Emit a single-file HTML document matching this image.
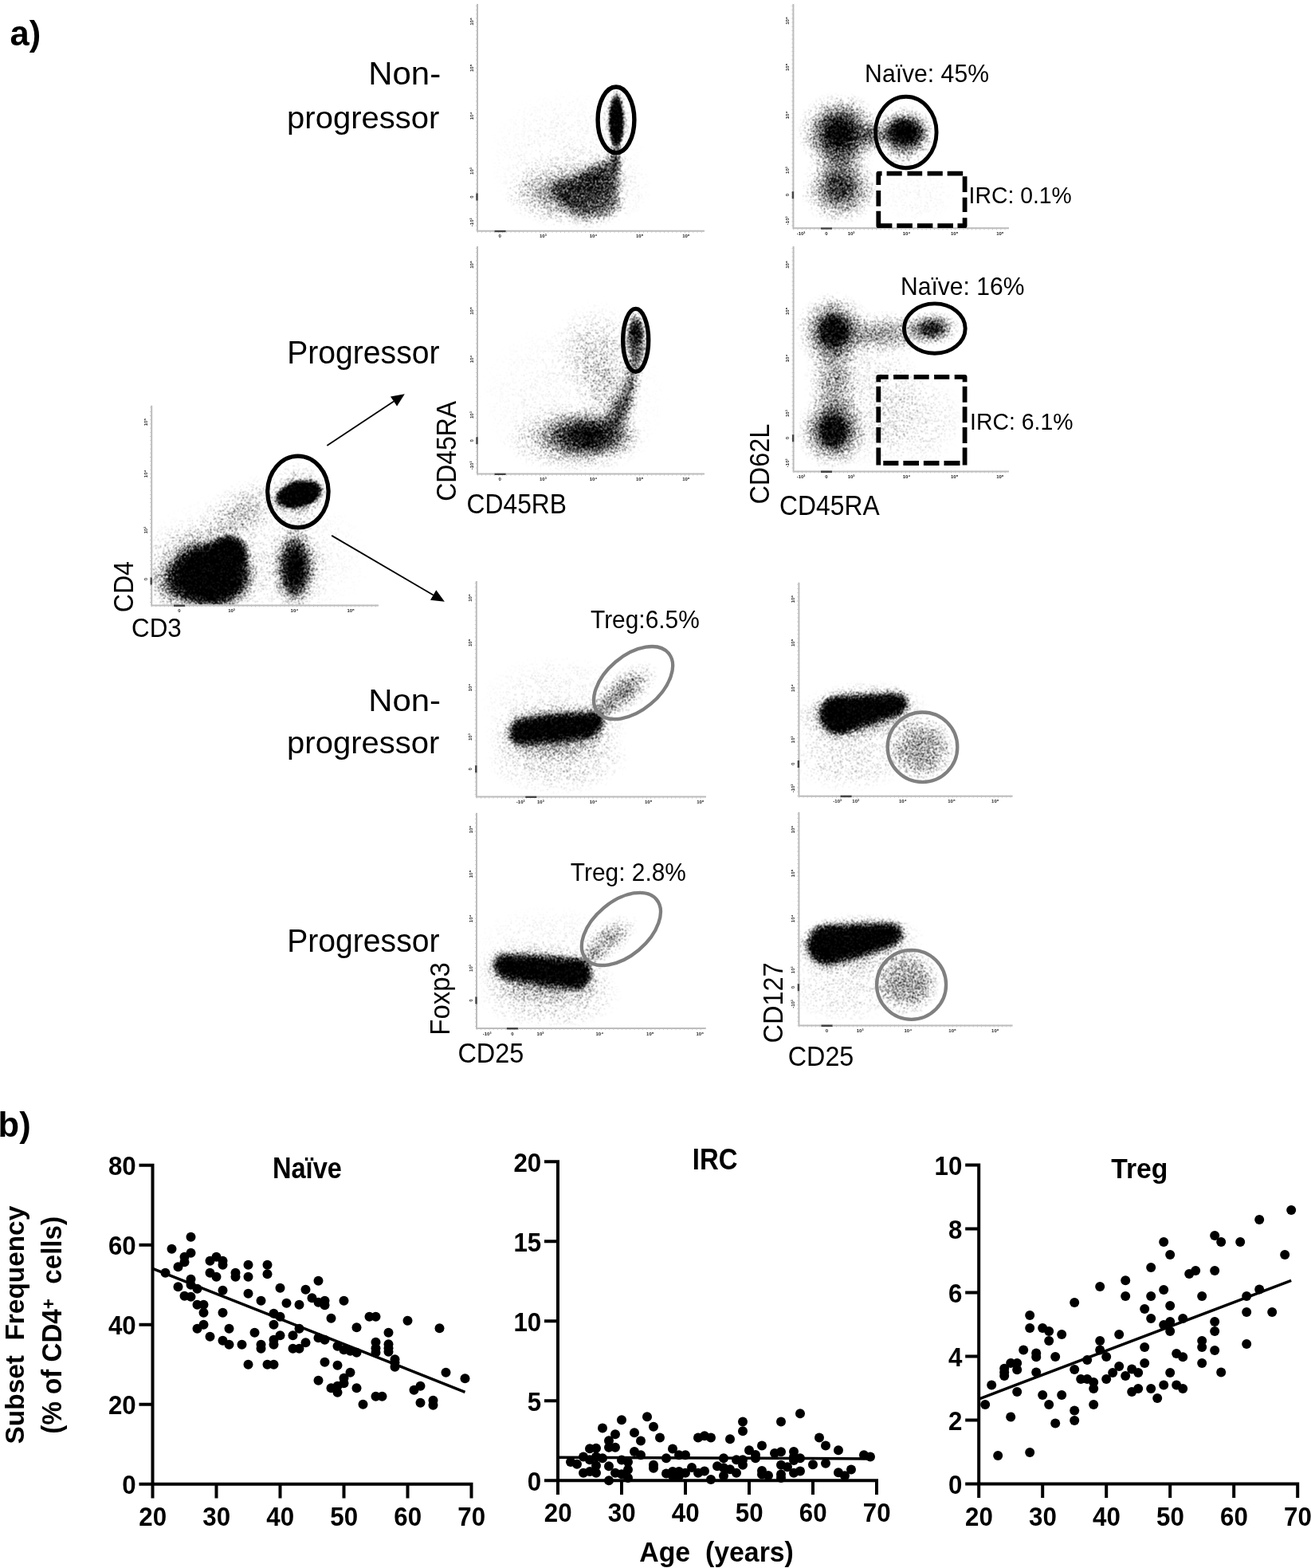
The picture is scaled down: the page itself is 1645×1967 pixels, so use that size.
<!DOCTYPE html>
<html lang="en">
<head>
<meta charset="utf-8">
<title>Figure</title>
<style>
html,body{margin:0;padding:0;background:#fff;width:1645px;height:1967px;overflow:hidden}
svg{display:block}
text{font-family:"Liberation Sans",sans-serif;fill:#000;white-space:pre}
.b{font-weight:bold}
.tk{font-size:6px;font-weight:bold;fill:#222}
</style>
</head>
<body>
<svg width="1645" height="1967" viewBox="0 0 1645 1967">
<defs>
<radialGradient id="g"><stop offset="0" stop-opacity="1"/><stop offset="0.15" stop-opacity="0.95"/><stop offset="0.3" stop-opacity="0.82"/><stop offset="0.45" stop-opacity="0.62"/><stop offset="0.6" stop-opacity="0.4"/><stop offset="0.75" stop-opacity="0.2"/><stop offset="0.9" stop-opacity="0.06"/><stop offset="1" stop-opacity="0"/></radialGradient>
<radialGradient id="c"><stop offset="0" stop-opacity="1"/><stop offset="0.58" stop-opacity="1"/><stop offset="0.7" stop-opacity="0.8"/><stop offset="0.8" stop-opacity="0.5"/><stop offset="0.9" stop-opacity="0.2"/><stop offset="1" stop-opacity="0"/></radialGradient>
<radialGradient id="k"><stop offset="0" stop-opacity="1"/><stop offset="0.72" stop-opacity="1"/><stop offset="0.82" stop-opacity="0.7"/><stop offset="0.92" stop-opacity="0.25"/><stop offset="1" stop-opacity="0"/></radialGradient>
<radialGradient id="f"><stop offset="0" stop-opacity="1"/><stop offset="0.5" stop-opacity="0.85"/><stop offset="0.8" stop-opacity="0.4"/><stop offset="1" stop-opacity="0"/></radialGradient>
<filter id="b3" x="-30%" y="-40%" width="160%" height="180%"><feGaussianBlur stdDeviation="3"/></filter>
<filter id="b4" x="-30%" y="-40%" width="160%" height="180%"><feGaussianBlur stdDeviation="4"/></filter>
<filter id="b5" x="-30%" y="-40%" width="160%" height="180%"><feGaussianBlur stdDeviation="5"/></filter>
<filter id="b6" x="-30%" y="-40%" width="160%" height="180%"><feGaussianBlur stdDeviation="6"/></filter>
<filter id="b8" x="-30%" y="-40%" width="160%" height="180%"><feGaussianBlur stdDeviation="8"/></filter>
<filter id="st" x="130" y="0" width="1200" height="1310" filterUnits="userSpaceOnUse" color-interpolation-filters="sRGB"><feTurbulence type="fractalNoise" baseFrequency="0.7" numOctaves="2" seed="11" result="n"/><feColorMatrix in="n" type="matrix" values="0 0 0 0 0  0 0 0 0 0  0 0 0 0 0  0 0 0 2.6 -0.8" result="na"/><feComposite in="SourceGraphic" in2="na" operator="arithmetic" k1="0" k2="1" k3="-0.8" k4="0" result="d"/><feComponentTransfer in="d" result="t"><feFuncA type="linear" slope="4" intercept="0"/></feComponentTransfer><feConvolveMatrix in="t" order="3" kernelMatrix="1 2 1 2 4 2 1 2 1" divisor="16" edgeMode="none" preserveAlpha="false"/></filter>
<clipPath id="cp1"><rect x="191.2" y="508.7" width="304.8" height="249.7"/></clipPath>
<clipPath id="cp2"><rect x="600" y="5" width="305" height="283.8"/></clipPath>
<clipPath id="cp3"><rect x="600" y="309" width="305" height="284.6"/></clipPath>
<clipPath id="cp4"><rect x="996.4" y="5" width="290.6" height="280.3"/></clipPath>
<clipPath id="cp5"><rect x="996.6" y="309" width="290.4" height="281.4"/></clipPath>
<clipPath id="cp6"><rect x="598.8" y="729" width="308.2" height="269.6"/></clipPath>
<clipPath id="cp7"><rect x="599" y="1019.8" width="307.8" height="269.2"/></clipPath>
<clipPath id="cp8"><rect x="1003.4" y="730.8" width="288.2" height="266.9"/></clipPath>
<clipPath id="cp9"><rect x="1003.4" y="1018.8" width="288.2" height="266.7"/></clipPath>
</defs>
<rect width="1645" height="1967" fill="#fff"/>
<g filter="url(#st)">
<g clip-path="url(#cp1)"><ellipse cx="264" cy="721" rx="59" ry="47" fill="url(#c)" opacity="1"/><ellipse cx="286" cy="696" rx="30" ry="28" fill="url(#c)" opacity="1" transform="rotate(-20 286 696)"/><ellipse cx="224" cy="732" rx="40" ry="34" fill="url(#g)" opacity="0.6"/><ellipse cx="256" cy="716" rx="90" ry="70" fill="url(#g)" opacity="0.5"/><ellipse cx="370" cy="713" rx="30" ry="56" fill="url(#g)" opacity="1"/><ellipse cx="370" cy="712" rx="18" ry="40" fill="url(#g)" opacity="0.9"/><ellipse cx="371" cy="708" rx="44" ry="64" fill="url(#g)" opacity="0.3"/><ellipse cx="375" cy="620" rx="33" ry="18" fill="url(#k)" opacity="1" transform="rotate(-14 375 620)"/><ellipse cx="375" cy="620" rx="41" ry="25" fill="url(#g)" opacity="0.6" transform="rotate(-14 375 620)"/><ellipse cx="374" cy="622" rx="42" ry="46" fill="url(#g)" opacity="0.35"/><ellipse cx="302" cy="643" rx="66" ry="38" fill="url(#g)" opacity="0.28" transform="rotate(-35 302 643)"/><ellipse cx="320" cy="700" rx="150" ry="90" fill="url(#f)" opacity="0.07"/></g>
<g clip-path="url(#cp2)"><ellipse cx="773.5" cy="152" rx="11" ry="40" fill="url(#c)" opacity="1"/><ellipse cx="773.5" cy="152" rx="20" ry="45" fill="url(#g)" opacity="0.45"/><path d="M688 236L771 194Q777 192 777 200L777 258Q777 266 770 268L745 276Q732 278 722 272Z" filter="url(#b6)" opacity="0.55"/><ellipse cx="750" cy="230" rx="36" ry="30" fill="url(#g)" opacity="0.4" transform="rotate(-15 750 230)"/><ellipse cx="705" cy="243" rx="76" ry="40" fill="url(#g)" opacity="0.42"/><ellipse cx="772" cy="200" rx="11" ry="28" fill="url(#g)" opacity="0.5"/><ellipse cx="725" cy="235" rx="95" ry="55" fill="url(#f)" opacity="0.1"/><ellipse cx="710" cy="200" rx="100" ry="90" fill="url(#f)" opacity="0.05"/></g>
<g clip-path="url(#cp3)"><ellipse cx="798" cy="415" rx="12" ry="22" fill="url(#g)" opacity="0.8"/><ellipse cx="798" cy="428" rx="15" ry="40" fill="url(#f)" opacity="0.7"/><ellipse cx="739" cy="546" rx="68" ry="34" fill="url(#g)" opacity="0.9"/><ellipse cx="722" cy="550" rx="95" ry="46" fill="url(#g)" opacity="0.45"/><ellipse cx="778" cy="515" rx="22" ry="46" fill="url(#g)" opacity="0.65" transform="rotate(25 778 515)"/><ellipse cx="792" cy="478" rx="15" ry="38" fill="url(#g)" opacity="0.5" transform="rotate(12 792 478)"/><ellipse cx="748" cy="440" rx="60" ry="65" fill="url(#g)" opacity="0.22"/><ellipse cx="760" cy="490" rx="40" ry="50" fill="url(#g)" opacity="0.2"/><ellipse cx="720" cy="500" rx="120" ry="100" fill="url(#f)" opacity="0.05"/></g>
<g clip-path="url(#cp4)"><ellipse cx="1054" cy="166" rx="56" ry="52" fill="url(#g)" opacity="0.95"/><ellipse cx="1054" cy="166" rx="26" ry="24" fill="url(#g)" opacity="0.4"/><ellipse cx="1054" cy="238" rx="52" ry="46" fill="url(#g)" opacity="0.72"/><ellipse cx="1054" cy="202" rx="42" ry="52" fill="url(#g)" opacity="0.35"/><ellipse cx="1135" cy="166" rx="40" ry="32" fill="url(#g)" opacity="1"/><ellipse cx="1135" cy="166" rx="27" ry="20" fill="url(#g)" opacity="1"/><ellipse cx="1136" cy="174" rx="40" ry="46" fill="url(#g)" opacity="0.4"/><ellipse cx="1095" cy="170" rx="26" ry="22" fill="url(#g)" opacity="0.45"/><ellipse cx="1150" cy="245" rx="50" ry="35" fill="url(#f)" opacity="0.04"/></g>
<g clip-path="url(#cp5)"><ellipse cx="1046" cy="415" rx="50" ry="50" fill="url(#g)" opacity="0.85"/><ellipse cx="1046" cy="415" rx="21" ry="23" fill="url(#c)" opacity="0.6"/><ellipse cx="1045" cy="541" rx="48" ry="50" fill="url(#g)" opacity="0.85"/><ellipse cx="1045" cy="541" rx="21" ry="24" fill="url(#c)" opacity="0.6"/><ellipse cx="1046" cy="478" rx="38" ry="75" fill="url(#g)" opacity="0.4"/><ellipse cx="1110" cy="418" rx="70" ry="30" fill="url(#g)" opacity="0.45"/><ellipse cx="1170" cy="412" rx="36" ry="24" fill="url(#g)" opacity="0.85"/><ellipse cx="1150" cy="527" rx="60" ry="60" fill="url(#f)" opacity="0.11"/><ellipse cx="1090" cy="500" rx="70" ry="90" fill="url(#f)" opacity="0.12"/></g>
<g clip-path="url(#cp6)"><path d="M639.5 917.9C639.5 907.6 647.3 902.0 659.0 901.1L740.9 892.8C751.6 891.8 757.5 898.3 756.5 906.7C755.5 916.9 747.7 923.4 737.0 925.3L657.0 933.7C646.3 934.6 639.5 928.1 639.5 917.9Z" filter="url(#b4)" opacity="1"/><ellipse cx="698" cy="918" rx="92" ry="44" fill="url(#g)" opacity="0.52" transform="rotate(-3 698 918)"/><ellipse cx="700" cy="952" rx="92" ry="46" fill="url(#f)" opacity="0.17"/><ellipse cx="784" cy="866" rx="52" ry="27" fill="url(#g)" opacity="0.5" transform="rotate(-38 784 866)"/><ellipse cx="760" cy="887" rx="22" ry="18" fill="url(#g)" opacity="0.3"/><ellipse cx="700" cy="880" rx="100" ry="60" fill="url(#f)" opacity="0.07"/></g>
<g clip-path="url(#cp7)"><path d="M619.5 1211.6C619.5 1202.3 625.4 1197.6 635.1 1197.6L728.8 1203.2C738.5 1204.1 742.4 1212.5 741.4 1221.8C740.5 1233.9 732.6 1240.4 721.0 1240.4L637.1 1227.4C626.4 1225.5 619.5 1219.9 619.5 1211.6Z" filter="url(#b4)" opacity="1"/><ellipse cx="680" cy="1222" rx="94" ry="42" fill="url(#g)" opacity="0.52" transform="rotate(5 680 1222)"/><ellipse cx="690" cy="1250" rx="92" ry="42" fill="url(#f)" opacity="0.17"/><ellipse cx="764" cy="1178" rx="46" ry="23" fill="url(#g)" opacity="0.4" transform="rotate(-38 764 1178)"/><ellipse cx="745" cy="1197" rx="20" ry="16" fill="url(#g)" opacity="0.28"/><ellipse cx="690" cy="1185" rx="95" ry="50" fill="url(#f)" opacity="0.06"/></g>
<g clip-path="url(#cp8)"><path d="M1028.3 897.6C1028.3 882.8 1036.1 874.4 1050.8 873.5L1123.9 869.8C1134.6 869.8 1139.5 876.3 1138.5 883.7C1137.5 891.1 1131.7 895.8 1122.9 898.6L1058.5 920.0C1043.9 923.7 1028.3 912.5 1028.3 897.6Z" filter="url(#b4)" opacity="1"/><ellipse cx="1078" cy="895" rx="90" ry="42" fill="url(#g)" opacity="0.5" transform="rotate(-6 1078 895)"/><ellipse cx="1065" cy="950" rx="78" ry="45" fill="url(#f)" opacity="0.14"/><ellipse cx="1156" cy="939" rx="43" ry="43" fill="url(#f)" opacity="0.45"/></g>
<g clip-path="url(#cp9)"><path d="M1013.5 1187.7C1013.5 1172.8 1021.2 1161.6 1034.9 1160.7L1116.8 1157.9C1127.5 1157.9 1133.4 1164.4 1132.4 1171.8C1131.4 1180.2 1125.6 1184.9 1115.8 1187.7L1045.6 1209.0C1031.0 1212.8 1013.5 1202.5 1013.5 1187.7Z" filter="url(#b4)" opacity="1"/><ellipse cx="1070" cy="1185" rx="92" ry="42" fill="url(#g)" opacity="0.5" transform="rotate(-6 1070 1185)"/><ellipse cx="1060" cy="1240" rx="72" ry="45" fill="url(#f)" opacity="0.12"/><ellipse cx="1138" cy="1232" rx="43" ry="43" fill="url(#f)" opacity="0.45"/></g>
</g>
<g><path d="M190.2 508.7V759.4H475" fill="none" stroke="#bcbcbc" stroke-width="2"/><path d="M189.6 510.7V759.4" fill="none" stroke="#c0c0c0" stroke-width="3" stroke-dasharray="0.8 4.4"/><path d="M190.2 760H473" fill="none" stroke="#c0c0c0" stroke-width="3" stroke-dasharray="0.8 4.4"/><path d="M218 759.7h14M189.7 724.5v9" fill="none" stroke="#444" stroke-width="2.4"/><text class="tk" text-anchor="middle" transform="translate(184.8 726.7) rotate(-90)">0</text><text class="tk" text-anchor="middle" transform="translate(184.8 665.2) rotate(-90)">10³</text><text class="tk" text-anchor="middle" transform="translate(184.8 594.3) rotate(-90)">10⁴</text><text class="tk" text-anchor="middle" transform="translate(184.8 529.6) rotate(-90)">10⁵</text><text class="tk" text-anchor="middle" x="225" y="768">0</text><text class="tk" text-anchor="middle" x="290.5" y="768">10³</text><text class="tk" text-anchor="middle" x="369.4" y="768">10⁴</text><text class="tk" text-anchor="middle" x="440.2" y="768">10⁵</text></g>
<g><path d="M599 5V289.8H884" fill="none" stroke="#bcbcbc" stroke-width="2"/><path d="M598.4 7V289.8" fill="none" stroke="#c0c0c0" stroke-width="3" stroke-dasharray="0.8 4.4"/><path d="M599 290.4H882" fill="none" stroke="#c0c0c0" stroke-width="3" stroke-dasharray="0.8 4.4"/><path d="M620.6 290.1h14M598.5 242.5v9" fill="none" stroke="#444" stroke-width="2.4"/><text class="tk" text-anchor="middle" transform="translate(593.6 278.8) rotate(-90)">-10³</text><text class="tk" text-anchor="middle" transform="translate(593.6 247) rotate(-90)">0</text><text class="tk" text-anchor="middle" transform="translate(593.6 214.6) rotate(-90)">10³</text><text class="tk" text-anchor="middle" transform="translate(593.6 145.4) rotate(-90)">10⁴</text><text class="tk" text-anchor="middle" transform="translate(593.6 85.3) rotate(-90)">10⁵</text><text class="tk" text-anchor="middle" transform="translate(593.6 27) rotate(-90)">10⁶</text><text class="tk" text-anchor="middle" x="627.2" y="298.4">0</text><text class="tk" text-anchor="middle" x="681.3" y="298.4">10³</text><text class="tk" text-anchor="middle" x="744.5" y="298.4">10⁴</text><text class="tk" text-anchor="middle" x="802.7" y="298.4">10⁵</text><text class="tk" text-anchor="middle" x="860.9" y="298.4">10⁶</text></g>
<g><path d="M599 309V594.6H884" fill="none" stroke="#bcbcbc" stroke-width="2"/><path d="M598.4 311V594.6" fill="none" stroke="#c0c0c0" stroke-width="3" stroke-dasharray="0.8 4.4"/><path d="M599 595.2H882" fill="none" stroke="#c0c0c0" stroke-width="3" stroke-dasharray="0.8 4.4"/><path d="M620.6 594.9h14M598.5 548.3v9" fill="none" stroke="#444" stroke-width="2.4"/><text class="tk" text-anchor="middle" transform="translate(593.6 583.9) rotate(-90)">-10³</text><text class="tk" text-anchor="middle" transform="translate(593.6 552.8) rotate(-90)">0</text><text class="tk" text-anchor="middle" transform="translate(593.6 520.7) rotate(-90)">10³</text><text class="tk" text-anchor="middle" transform="translate(593.6 450.5) rotate(-90)">10⁴</text><text class="tk" text-anchor="middle" transform="translate(593.6 390) rotate(-90)">10⁵</text><text class="tk" text-anchor="middle" transform="translate(593.6 332) rotate(-90)">10⁶</text><text class="tk" text-anchor="middle" x="627.2" y="603.2">0</text><text class="tk" text-anchor="middle" x="681.3" y="603.2">10³</text><text class="tk" text-anchor="middle" x="744.5" y="603.2">10⁴</text><text class="tk" text-anchor="middle" x="802.7" y="603.2">10⁵</text><text class="tk" text-anchor="middle" x="860.9" y="603.2">10⁶</text></g>
<g><path d="M995.4 5V286.3H1266" fill="none" stroke="#bcbcbc" stroke-width="2"/><path d="M994.8 7V286.3" fill="none" stroke="#c0c0c0" stroke-width="3" stroke-dasharray="0.8 4.4"/><path d="M995.4 286.9H1264" fill="none" stroke="#c0c0c0" stroke-width="3" stroke-dasharray="0.8 4.4"/><path d="M1030 286.6h14M994.9 240.2v9" fill="none" stroke="#444" stroke-width="2.4"/><text class="tk" text-anchor="middle" transform="translate(990 276.8) rotate(-90)">-10³</text><text class="tk" text-anchor="middle" transform="translate(990 244.7) rotate(-90)">0</text><text class="tk" text-anchor="middle" transform="translate(990 213.6) rotate(-90)">10³</text><text class="tk" text-anchor="middle" transform="translate(990 144.4) rotate(-90)">10⁴</text><text class="tk" text-anchor="middle" transform="translate(990 84.3) rotate(-90)">10⁵</text><text class="tk" text-anchor="middle" transform="translate(990 26) rotate(-90)">10⁶</text><text class="tk" text-anchor="middle" x="1005" y="294.9">-10³</text><text class="tk" text-anchor="middle" x="1037" y="294.9">0</text><text class="tk" text-anchor="middle" x="1068" y="294.9">10³</text><text class="tk" text-anchor="middle" x="1137.5" y="294.9">10⁴</text><text class="tk" text-anchor="middle" x="1197.7" y="294.9">10⁵</text><text class="tk" text-anchor="middle" x="1254.9" y="294.9">10⁶</text></g>
<g><path d="M995.6 309V591.4H1266" fill="none" stroke="#bcbcbc" stroke-width="2"/><path d="M995 311V591.4" fill="none" stroke="#c0c0c0" stroke-width="3" stroke-dasharray="0.8 4.4"/><path d="M995.6 592H1264" fill="none" stroke="#c0c0c0" stroke-width="3" stroke-dasharray="0.8 4.4"/><path d="M1030 591.7h14M995.1 545.2v9" fill="none" stroke="#444" stroke-width="2.4"/><text class="tk" text-anchor="middle" transform="translate(990.2 580.8) rotate(-90)">-10³</text><text class="tk" text-anchor="middle" transform="translate(990.2 549.7) rotate(-90)">0</text><text class="tk" text-anchor="middle" transform="translate(990.2 518.7) rotate(-90)">10³</text><text class="tk" text-anchor="middle" transform="translate(990.2 449.4) rotate(-90)">10⁴</text><text class="tk" text-anchor="middle" transform="translate(990.2 390.3) rotate(-90)">10⁵</text><text class="tk" text-anchor="middle" transform="translate(990.2 332) rotate(-90)">10⁶</text><text class="tk" text-anchor="middle" x="1005" y="600">-10³</text><text class="tk" text-anchor="middle" x="1037" y="600">0</text><text class="tk" text-anchor="middle" x="1068" y="600">10³</text><text class="tk" text-anchor="middle" x="1137.5" y="600">10⁴</text><text class="tk" text-anchor="middle" x="1197.7" y="600">10⁵</text><text class="tk" text-anchor="middle" x="1254.9" y="600">10⁶</text></g>
<g><path d="M597.8 729V999.6H886" fill="none" stroke="#bcbcbc" stroke-width="2"/><path d="M597.2 731V999.6" fill="none" stroke="#c0c0c0" stroke-width="3" stroke-dasharray="0.8 4.4"/><path d="M597.8 1000.2H884" fill="none" stroke="#c0c0c0" stroke-width="3" stroke-dasharray="0.8 4.4"/><path d="M659.3 999.9h14M597.3 960.3v9" fill="none" stroke="#444" stroke-width="2.4"/><text class="tk" text-anchor="middle" transform="translate(592.4 964.8) rotate(-90)">0</text><text class="tk" text-anchor="middle" transform="translate(592.4 924.7) rotate(-90)">10³</text><text class="tk" text-anchor="middle" transform="translate(592.4 862.5) rotate(-90)">10⁴</text><text class="tk" text-anchor="middle" transform="translate(592.4 806.3) rotate(-90)">10⁵</text><text class="tk" text-anchor="middle" transform="translate(592.4 750) rotate(-90)">10⁶</text><text class="tk" text-anchor="middle" x="653.2" y="1008.2">-10³</text><text class="tk" text-anchor="middle" x="678.3" y="1008.2">10³</text><text class="tk" text-anchor="middle" x="744.5" y="1008.2">10⁴</text><text class="tk" text-anchor="middle" x="813.7" y="1008.2">10⁵</text><text class="tk" text-anchor="middle" x="878.9" y="1008.2">10⁶</text></g>
<g><path d="M598 1019.8V1290H885.8" fill="none" stroke="#bcbcbc" stroke-width="2"/><path d="M597.4 1021.8V1290" fill="none" stroke="#c0c0c0" stroke-width="3" stroke-dasharray="0.8 4.4"/><path d="M598 1290.6H883.8" fill="none" stroke="#c0c0c0" stroke-width="3" stroke-dasharray="0.8 4.4"/><path d="M635.9 1290.3h14M597.5 1250.5v9" fill="none" stroke="#444" stroke-width="2.4"/><text class="tk" text-anchor="middle" transform="translate(592.6 1255) rotate(-90)">0</text><text class="tk" text-anchor="middle" transform="translate(592.6 1214.6) rotate(-90)">10³</text><text class="tk" text-anchor="middle" transform="translate(592.6 1152.3) rotate(-90)">10⁴</text><text class="tk" text-anchor="middle" transform="translate(592.6 1096.5) rotate(-90)">10⁵</text><text class="tk" text-anchor="middle" transform="translate(592.6 1040.6) rotate(-90)">10⁶</text><text class="tk" text-anchor="middle" x="611.1" y="1298.6">-10³</text><text class="tk" text-anchor="middle" x="642.9" y="1298.6">0</text><text class="tk" text-anchor="middle" x="677.9" y="1298.6">10³</text><text class="tk" text-anchor="middle" x="752.3" y="1298.6">10⁴</text><text class="tk" text-anchor="middle" x="815.8" y="1298.6">10⁵</text><text class="tk" text-anchor="middle" x="878.2" y="1298.6">10⁶</text></g>
<g><path d="M1002.4 730.8V998.7H1270.6" fill="none" stroke="#bcbcbc" stroke-width="2"/><path d="M1001.8 732.8V998.7" fill="none" stroke="#c0c0c0" stroke-width="3" stroke-dasharray="0.8 4.4"/><path d="M1002.4 999.3H1268.6" fill="none" stroke="#c0c0c0" stroke-width="3" stroke-dasharray="0.8 4.4"/><path d="M1054.6 999h14M1001.9 953.9v9" fill="none" stroke="#444" stroke-width="2.4"/><text class="tk" text-anchor="middle" transform="translate(997 989) rotate(-90)">-10³</text><text class="tk" text-anchor="middle" transform="translate(997 958.4) rotate(-90)">0</text><text class="tk" text-anchor="middle" transform="translate(997 927.8) rotate(-90)">10³</text><text class="tk" text-anchor="middle" transform="translate(997 863.2) rotate(-90)">10⁴</text><text class="tk" text-anchor="middle" transform="translate(997 806.3) rotate(-90)">10⁵</text><text class="tk" text-anchor="middle" transform="translate(997 751.6) rotate(-90)">10⁶</text><text class="tk" text-anchor="middle" x="1050.7" y="1007.3">-10³</text><text class="tk" text-anchor="middle" x="1073.7" y="1007.3">10³</text><text class="tk" text-anchor="middle" x="1132.8" y="1007.3">10⁴</text><text class="tk" text-anchor="middle" x="1194" y="1007.3">10⁵</text><text class="tk" text-anchor="middle" x="1248.8" y="1007.3">10⁶</text></g>
<g><path d="M1002.4 1018.8V1286.5H1270.6" fill="none" stroke="#bcbcbc" stroke-width="2"/><path d="M1001.8 1020.8V1286.5" fill="none" stroke="#c0c0c0" stroke-width="3" stroke-dasharray="0.8 4.4"/><path d="M1002.4 1287.1H1268.6" fill="none" stroke="#c0c0c0" stroke-width="3" stroke-dasharray="0.8 4.4"/><path d="M1030.5 1286.8h14M1001.9 1234.2v9" fill="none" stroke="#444" stroke-width="2.4"/><text class="tk" text-anchor="middle" transform="translate(997 1259.5) rotate(-90)">-10³</text><text class="tk" text-anchor="middle" transform="translate(997 1238.7) rotate(-90)">0</text><text class="tk" text-anchor="middle" transform="translate(997 1216.8) rotate(-90)">10³</text><text class="tk" text-anchor="middle" transform="translate(997 1152.3) rotate(-90)">10⁴</text><text class="tk" text-anchor="middle" transform="translate(997 1095.4) rotate(-90)">10⁵</text><text class="tk" text-anchor="middle" transform="translate(997 1040.6) rotate(-90)">10⁶</text><text class="tk" text-anchor="middle" x="1037.5" y="1295.1">0</text><text class="tk" text-anchor="middle" x="1079.1" y="1295.1">10³</text><text class="tk" text-anchor="middle" x="1139.3" y="1295.1">10⁴</text><text class="tk" text-anchor="middle" x="1195.1" y="1295.1">10⁵</text><text class="tk" text-anchor="middle" x="1248.8" y="1295.1">10⁶</text></g>
<ellipse cx="373.9" cy="617" rx="38.2" ry="44.9" fill="none" stroke="#000" stroke-width="5.2"/>
<ellipse cx="773" cy="150.4" rx="22.9" ry="41.4" fill="none" stroke="#000" stroke-width="5.4"/>
<ellipse cx="797.7" cy="426.8" rx="16" ry="39.4" fill="none" stroke="#000" stroke-width="5.4"/>
<ellipse cx="1136.8" cy="166" rx="38.3" ry="44.8" fill="none" stroke="#000" stroke-width="4.9"/>
<ellipse cx="1172.8" cy="412.1" rx="38.4" ry="31.2" fill="none" stroke="#000" stroke-width="4.9"/>
<path d="M1102.3 231.9V217.7H1106.6M1112.6 217.7H1131.7M1138.5 217.7H1157.2M1163.6 217.7H1182.8M1188.7 217.7H1208.2M1210.6 221.3V240.9M1210.6 247.7V266M1210.6 273.2V283.2H1201.5M1196 283.2H1176.4M1170.4 283.2H1150.9M1144.9 283.2H1125.3M1119.4 283.2H1102.3V264.7M1102.3 258.7V239.1" fill="none" stroke="#000" stroke-width="5.8" stroke-linejoin="round"/>
<path d="M1102.3 479.3V472.9H1114.7M1121.1 472.9H1140.2M1146.6 472.9H1165.7M1172.1 472.9H1191.3M1197.7 472.9H1210.6V479.3M1210.6 484.8V504.8M1210.6 510.3V530.3M1210.6 535.9V555.9M1210.6 561.4V583.5M1204.5 581H1184.5M1178.5 581H1158.9M1153 581H1133.4M1127.4 581H1108.3M1102.3 583.5V561.4M1102.3 555.4V535.9M1102.3 529.9V510.3M1102.3 504.4V484.8" fill="none" stroke="#000" stroke-width="5.8" stroke-linejoin="round"/>
<ellipse cx="794.6" cy="856.6" rx="57.8" ry="34.4" fill="none" stroke="#7f7f7f" stroke-width="4.3" transform="rotate(-40 794.6 856.6)"/>
<ellipse cx="779.4" cy="1165.4" rx="57.8" ry="34.4" fill="none" stroke="#7f7f7f" stroke-width="4.3" transform="rotate(-40 779.4 1165.4)"/>
<ellipse cx="1157.5" cy="937.3" rx="43.8" ry="43.8" fill="none" stroke="#808080" stroke-width="4.3"/>
<ellipse cx="1143.6" cy="1235.3" rx="43.5" ry="43.5" fill="none" stroke="#808080" stroke-width="4.3"/>
<path d="M410.3 559L494.1 503.4" stroke="#000" stroke-width="1.8" fill="none"/><path d="M507.8 494.3L498.1 509.5L490 497.4Z" fill="#000"/>
<path d="M416.2 671.9L543.7 746.5" stroke="#000" stroke-width="1.8" fill="none"/><path d="M557.9 754.8L540 752.7L547.3 740.2Z" fill="#000"/>
<text class="b" transform="translate(12.41 56.7) scale(0.991 1)" font-size="44.00" xml:space="preserve">a)</text>
<text class="b" transform="translate(-2.5 1425.8) scale(0.991 1)" font-size="44.00" xml:space="preserve">b)</text>
<text transform="translate(462.19 106.3) scale(1.043 1)" font-size="40.24" xml:space="preserve">Non-</text>
<text transform="translate(360.12 160.8) scale(1.010 1)" font-size="39.60" xml:space="preserve">progressor</text>
<text transform="translate(360.25 456.4) scale(0.980 1)" font-size="39.90" xml:space="preserve">Progressor</text>
<text transform="translate(462.19 891.7) scale(1.066 1)" font-size="39.36" xml:space="preserve">Non-</text>
<text transform="translate(360.12 945.2) scale(1.010 1)" font-size="39.60" xml:space="preserve">progressor</text>
<text transform="translate(360.25 1193.7) scale(0.980 1)" font-size="39.90" xml:space="preserve">Progressor</text>
<text transform="translate(164.97 799.1) scale(0.950 1)" font-size="33.06" xml:space="preserve">CD3</text>
<text transform="translate(166.6 768.33) rotate(-90) scale(0.921 1)" font-size="34.92" xml:space="preserve">CD4</text>
<text transform="translate(585.49 643.9) scale(0.889 1)" font-size="35.79" xml:space="preserve">CD45RB</text>
<text transform="translate(572.2 628.86) rotate(-90) scale(0.892 1)" font-size="35.79" xml:space="preserve">CD45RA</text>
<text transform="translate(964.6 632.62) rotate(-90) scale(0.923 1)" font-size="35.11" xml:space="preserve">CD62L</text>
<text transform="translate(978.12 646.3) scale(0.906 1)" font-size="35.11" xml:space="preserve">CD45RA</text>
<text transform="translate(1085.12 102.6) scale(0.982 1)" font-size="30.71" xml:space="preserve">Naïve: 45%</text>
<text transform="translate(1215.58 254.7) scale(0.947 1)" font-size="29.95" xml:space="preserve">IRC: 0.1%</text>
<text transform="translate(1129.97 370) scale(0.940 1)" font-size="32.00" xml:space="preserve">Naïve: 16%</text>
<text transform="translate(1217.01 539.2) scale(0.950 1)" font-size="29.95" xml:space="preserve">IRC: 6.1%</text>
<text transform="translate(741.03 788.17) scale(0.968 1)" font-size="30.88" xml:space="preserve">Treg:6.5%</text>
<text transform="translate(715.82 1104.72) scale(0.979 1)" font-size="30.55" xml:space="preserve">Treg: 2.8%</text>
<text transform="translate(574.4 1332.5) scale(0.924 1)" font-size="35.11" xml:space="preserve">CD25</text>
<text transform="translate(563.8 1298.64) rotate(-90) scale(0.947 1)" font-size="34.74" xml:space="preserve">Foxp3</text>
<text transform="translate(988.8 1337.1) scale(0.943 1)" font-size="34.23" xml:space="preserve">CD25</text>
<text transform="translate(981.8 1308.44) rotate(-90) scale(0.902 1)" font-size="35.99" xml:space="preserve">CD127</text>
<text class="b" transform="translate(341.91 1478) scale(0.871 1)" font-size="37.46" xml:space="preserve">Naïve</text>
<text class="b" transform="translate(868.77 1467.1) scale(0.909 1)" font-size="36.26" xml:space="preserve">IRC</text>
<text class="b" transform="translate(1394.29 1478.07) scale(0.940 1)" font-size="35.84" xml:space="preserve">Treg</text>
<text class="b" transform="translate(29.8 1811.39) rotate(-90) scale(1.003 1)" font-size="33.30" xml:space="preserve">Subset  Frequency</text>
<text class="b" transform="translate(77.4 1798.65) rotate(-90) scale(0.969 1)" font-size="34.20" xml:space="preserve">(% of CD4<tspan font-size="68%" dy="-0.36em">+</tspan><tspan dy="0.245em">  cells)</tspan></text>
<text class="b" transform="translate(802.3 1958.9) scale(0.953 1)" font-size="35.50" xml:space="preserve">Age  (years)</text>
<g>
<path d="M191.5 1459.8V1861.8H593.5M174.5 1861.8H191.5M174.5 1761.8H191.5M174.5 1661.8H191.5M174.5 1561.8H191.5M174.5 1461.8H191.5M191.5 1861.8V1879.4M271.5 1861.8V1879.4M351.5 1861.8V1879.4M431.5 1861.8V1879.4M511.5 1861.8V1879.4M591.5 1861.8V1879.4" fill="none" stroke="#000" stroke-width="4" stroke-linejoin="miter"/>
<g class="b" font-size="33.91" text-anchor="end"><text transform="translate(170.7 1874.1) scale(0.923 1)">0</text><text transform="translate(170.7 1774.1) scale(0.923 1)">20</text><text transform="translate(170.7 1674.1) scale(0.923 1)">40</text><text transform="translate(170.7 1574.1) scale(0.923 1)">60</text><text transform="translate(170.7 1474.1) scale(0.923 1)">80</text></g>
<g class="b" font-size="33.91" text-anchor="middle"><text transform="translate(191.7 1914) scale(0.923 1)">20</text><text transform="translate(271.7 1914) scale(0.923 1)">30</text><text transform="translate(351.7 1914) scale(0.923 1)">40</text><text transform="translate(431.7 1914) scale(0.923 1)">50</text><text transform="translate(511.7 1914) scale(0.923 1)">60</text><text transform="translate(591.7 1914) scale(0.923 1)">70</text></g>
<path d="M191.5 1591.3L583.5 1746.3" stroke="#000" stroke-width="3.5" fill="none"/>
<g fill="#000"><circle cx="207.5" cy="1596.8" r="6"/><circle cx="215.5" cy="1566.8" r="6"/><circle cx="223.5" cy="1589.3" r="6"/><circle cx="223.5" cy="1614.3" r="6"/><circle cx="231.5" cy="1576.8" r="6"/><circle cx="231.5" cy="1583.3" r="6"/><circle cx="231.5" cy="1625.8" r="6"/><circle cx="239.5" cy="1551.8" r="6"/><circle cx="239.5" cy="1571.8" r="6"/><circle cx="239.5" cy="1604.8" r="6"/><circle cx="239.5" cy="1611.8" r="6"/><circle cx="239.5" cy="1626.8" r="6"/><circle cx="247.5" cy="1616.8" r="6"/><circle cx="247.5" cy="1636.8" r="6"/><circle cx="247.5" cy="1666.8" r="6"/><circle cx="255.5" cy="1636.8" r="6"/><circle cx="255.5" cy="1646.8" r="6"/><circle cx="255.5" cy="1661.8" r="6"/><circle cx="263.5" cy="1581.8" r="6"/><circle cx="263.5" cy="1596.8" r="6"/><circle cx="263.5" cy="1676.8" r="6"/><circle cx="271.5" cy="1576.8" r="6"/><circle cx="271.5" cy="1601.8" r="6"/><circle cx="279.5" cy="1581.8" r="6"/><circle cx="279.5" cy="1586.8" r="6"/><circle cx="279.5" cy="1618.8" r="6"/><circle cx="279.5" cy="1646.8" r="6"/><circle cx="279.5" cy="1681.8" r="6"/><circle cx="287.5" cy="1666.8" r="6"/><circle cx="287.5" cy="1686.8" r="6"/><circle cx="295.5" cy="1596.8" r="6"/><circle cx="295.5" cy="1601.8" r="6"/><circle cx="303.5" cy="1686.8" r="6"/><circle cx="311.5" cy="1586.8" r="6"/><circle cx="311.5" cy="1601.8" r="6"/><circle cx="311.5" cy="1622.8" r="6"/><circle cx="311.5" cy="1711.8" r="6"/><circle cx="319.5" cy="1671.8" r="6"/><circle cx="327.5" cy="1631.8" r="6"/><circle cx="327.5" cy="1686.8" r="6"/><circle cx="327.5" cy="1691.8" r="6"/><circle cx="335.5" cy="1586.8" r="6"/><circle cx="335.5" cy="1598.3" r="6"/><circle cx="335.5" cy="1711.8" r="6"/><circle cx="343.5" cy="1647.8" r="6"/><circle cx="343.5" cy="1661.8" r="6"/><circle cx="343.5" cy="1680.8" r="6"/><circle cx="343.5" cy="1686.8" r="6"/><circle cx="343.5" cy="1711.8" r="6"/><circle cx="351.5" cy="1615.8" r="6"/><circle cx="351.5" cy="1651.8" r="6"/><circle cx="351.5" cy="1675.3" r="6"/><circle cx="359.5" cy="1634.8" r="6"/><circle cx="367.5" cy="1675.3" r="6"/><circle cx="367.5" cy="1691.8" r="6"/><circle cx="375.5" cy="1636.8" r="6"/><circle cx="375.5" cy="1666.8" r="6"/><circle cx="375.5" cy="1691.8" r="6"/><circle cx="383.5" cy="1617.8" r="6"/><circle cx="383.5" cy="1684.3" r="6"/><circle cx="391.5" cy="1628.3" r="6"/><circle cx="399.5" cy="1606.8" r="6"/><circle cx="399.5" cy="1633.8" r="6"/><circle cx="399.5" cy="1678.3" r="6"/><circle cx="399.5" cy="1731.8" r="6"/><circle cx="407.5" cy="1631.8" r="6"/><circle cx="407.5" cy="1637.3" r="6"/><circle cx="407.5" cy="1680.8" r="6"/><circle cx="407.5" cy="1708.8" r="6"/><circle cx="415.5" cy="1653.8" r="6"/><circle cx="415.5" cy="1741.3" r="6"/><circle cx="423.5" cy="1688.8" r="6"/><circle cx="423.5" cy="1712.8" r="6"/><circle cx="423.5" cy="1738.8" r="6"/><circle cx="423.5" cy="1746.8" r="6"/><circle cx="431.5" cy="1631.8" r="6"/><circle cx="431.5" cy="1693.3" r="6"/><circle cx="431.5" cy="1728.8" r="6"/><circle cx="431.5" cy="1735.3" r="6"/><circle cx="439.5" cy="1694.8" r="6"/><circle cx="439.5" cy="1721.8" r="6"/><circle cx="447.5" cy="1665.3" r="6"/><circle cx="447.5" cy="1696.8" r="6"/><circle cx="447.5" cy="1741.3" r="6"/><circle cx="455.5" cy="1761.8" r="6"/><circle cx="463.5" cy="1651.8" r="6"/><circle cx="471.5" cy="1651.8" r="6"/><circle cx="471.5" cy="1683.8" r="6"/><circle cx="471.5" cy="1691.3" r="6"/><circle cx="471.5" cy="1696.8" r="6"/><circle cx="471.5" cy="1751.8" r="6"/><circle cx="479.5" cy="1751.8" r="6"/><circle cx="487.5" cy="1671.8" r="6"/><circle cx="487.5" cy="1686.3" r="6"/><circle cx="487.5" cy="1691.3" r="6"/><circle cx="487.5" cy="1695.8" r="6"/><circle cx="495.5" cy="1705.3" r="6"/><circle cx="495.5" cy="1709.3" r="6"/><circle cx="495.5" cy="1714.8" r="6"/><circle cx="511.5" cy="1656.8" r="6"/><circle cx="519.5" cy="1743.8" r="6"/><circle cx="527.5" cy="1738.8" r="6"/><circle cx="527.5" cy="1759.8" r="6"/><circle cx="543.5" cy="1756.8" r="6"/><circle cx="543.5" cy="1762.8" r="6"/><circle cx="551.5" cy="1666.3" r="6"/><circle cx="559.5" cy="1721.8" r="6"/><circle cx="583.5" cy="1729.3" r="6"/></g>
</g>
<g>
<path d="M700 1455.3V1857.3H1102M683 1857.3H700M683 1757.3H700M683 1657.3H700M683 1557.3H700M683 1457.3H700M700 1857.3V1874.9M780 1857.3V1874.9M860 1857.3V1874.9M940 1857.3V1874.9M1020 1857.3V1874.9M1100 1857.3V1874.9" fill="none" stroke="#000" stroke-width="4" stroke-linejoin="miter"/>
<g class="b" font-size="33.91" text-anchor="end"><text transform="translate(679.2 1869.6) scale(0.923 1)">0</text><text transform="translate(679.2 1769.6) scale(0.923 1)">5</text><text transform="translate(679.2 1669.6) scale(0.923 1)">10</text><text transform="translate(679.2 1569.6) scale(0.923 1)">15</text><text transform="translate(679.2 1469.6) scale(0.923 1)">20</text></g>
<g class="b" font-size="33.91" text-anchor="middle"><text transform="translate(700.2 1908.8) scale(0.923 1)">20</text><text transform="translate(780.2 1908.8) scale(0.923 1)">30</text><text transform="translate(860.2 1908.8) scale(0.923 1)">40</text><text transform="translate(940.2 1908.8) scale(0.923 1)">50</text><text transform="translate(1020.2 1908.8) scale(0.923 1)">60</text><text transform="translate(1100.2 1908.8) scale(0.923 1)">70</text></g>
<path d="M700 1828.3L1092 1829.9" stroke="#000" stroke-width="3.5" fill="none"/>
<g fill="#000"><circle cx="716" cy="1833.9" r="6"/><circle cx="724" cy="1836.7" r="6"/><circle cx="732" cy="1827.5" r="6"/><circle cx="732" cy="1847.7" r="6"/><circle cx="740" cy="1817.3" r="6"/><circle cx="740" cy="1831.3" r="6"/><circle cx="740" cy="1845.9" r="6"/><circle cx="748" cy="1816.7" r="6"/><circle cx="748" cy="1827.5" r="6"/><circle cx="748" cy="1838.5" r="6"/><circle cx="748" cy="1847.7" r="6"/><circle cx="756" cy="1791.5" r="6"/><circle cx="756" cy="1829.3" r="6"/><circle cx="764" cy="1807.3" r="6"/><circle cx="764" cy="1815.7" r="6"/><circle cx="764" cy="1839.3" r="6"/><circle cx="764" cy="1857.3" r="6"/><circle cx="772" cy="1799.3" r="6"/><circle cx="772" cy="1815.7" r="6"/><circle cx="772" cy="1847.7" r="6"/><circle cx="780" cy="1781.3" r="6"/><circle cx="780" cy="1831.5" r="6"/><circle cx="780" cy="1849.3" r="6"/><circle cx="788" cy="1833.9" r="6"/><circle cx="788" cy="1843.7" r="6"/><circle cx="788" cy="1854.1" r="6"/><circle cx="796" cy="1797.3" r="6"/><circle cx="796" cy="1820.9" r="6"/><circle cx="804" cy="1807.5" r="6"/><circle cx="804" cy="1825.3" r="6"/><circle cx="812" cy="1777.3" r="6"/><circle cx="820" cy="1789.7" r="6"/><circle cx="820" cy="1837.7" r="6"/><circle cx="820" cy="1841.7" r="6"/><circle cx="828" cy="1803.5" r="6"/><circle cx="836" cy="1829.3" r="6"/><circle cx="836" cy="1848.5" r="6"/><circle cx="844" cy="1817.5" r="6"/><circle cx="844" cy="1845.9" r="6"/><circle cx="844" cy="1851.3" r="6"/><circle cx="852" cy="1825.3" r="6"/><circle cx="852" cy="1845.9" r="6"/><circle cx="852" cy="1851.3" r="6"/><circle cx="860" cy="1825.3" r="6"/><circle cx="860" cy="1847.7" r="6"/><circle cx="868" cy="1840.9" r="6"/><circle cx="876" cy="1803.5" r="6"/><circle cx="876" cy="1847.7" r="6"/><circle cx="884" cy="1801.3" r="6"/><circle cx="884" cy="1845.5" r="6"/><circle cx="892" cy="1803.5" r="6"/><circle cx="892" cy="1855.9" r="6"/><circle cx="900" cy="1839.3" r="6"/><circle cx="908" cy="1829.3" r="6"/><circle cx="908" cy="1841.3" r="6"/><circle cx="908" cy="1851.3" r="6"/><circle cx="916" cy="1805.3" r="6"/><circle cx="916" cy="1843.3" r="6"/><circle cx="924" cy="1831.3" r="6"/><circle cx="924" cy="1847.7" r="6"/><circle cx="932" cy="1783.5" r="6"/><circle cx="932" cy="1795.3" r="6"/><circle cx="932" cy="1831.3" r="6"/><circle cx="932" cy="1837.7" r="6"/><circle cx="940" cy="1819.3" r="6"/><circle cx="948" cy="1824.9" r="6"/><circle cx="948" cy="1829.3" r="6"/><circle cx="956" cy="1813.5" r="6"/><circle cx="956" cy="1844.9" r="6"/><circle cx="956" cy="1849.5" r="6"/><circle cx="964" cy="1850.9" r="6"/><circle cx="972" cy="1823.1" r="6"/><circle cx="980" cy="1783.5" r="6"/><circle cx="980" cy="1821.3" r="6"/><circle cx="980" cy="1837.7" r="6"/><circle cx="980" cy="1849.5" r="6"/><circle cx="980" cy="1854.1" r="6"/><circle cx="988" cy="1840.3" r="6"/><circle cx="996" cy="1820.9" r="6"/><circle cx="996" cy="1827.5" r="6"/><circle cx="996" cy="1832.1" r="6"/><circle cx="996" cy="1847.7" r="6"/><circle cx="1004" cy="1773.3" r="6"/><circle cx="1004" cy="1829.3" r="6"/><circle cx="1004" cy="1845.5" r="6"/><circle cx="1020" cy="1837.3" r="6"/><circle cx="1028" cy="1803.5" r="6"/><circle cx="1036" cy="1813.5" r="6"/><circle cx="1036" cy="1835.7" r="6"/><circle cx="1052" cy="1819.3" r="6"/><circle cx="1052" cy="1847.3" r="6"/><circle cx="1060" cy="1851.3" r="6"/><circle cx="1068" cy="1843.5" r="6"/><circle cx="1084" cy="1825.3" r="6"/><circle cx="1092" cy="1827.5" r="6"/></g>
</g>
<g>
<path d="M1228.2 1459.5V1861.5H1630.2M1211.2 1861.5H1228.2M1211.2 1781.5H1228.2M1211.2 1701.5H1228.2M1211.2 1621.5H1228.2M1211.2 1541.5H1228.2M1211.2 1461.5H1228.2M1228.2 1861.5V1879.1M1308.2 1861.5V1879.1M1388.2 1861.5V1879.1M1468.2 1861.5V1879.1M1548.2 1861.5V1879.1M1628.2 1861.5V1879.1" fill="none" stroke="#000" stroke-width="4" stroke-linejoin="miter"/>
<g class="b" font-size="33.91" text-anchor="end"><text transform="translate(1207.4 1873.8) scale(0.923 1)">0</text><text transform="translate(1207.4 1793.8) scale(0.923 1)">2</text><text transform="translate(1207.4 1713.8) scale(0.923 1)">4</text><text transform="translate(1207.4 1633.8) scale(0.923 1)">6</text><text transform="translate(1207.4 1553.8) scale(0.923 1)">8</text><text transform="translate(1207.4 1473.8) scale(0.923 1)">10</text></g>
<g class="b" font-size="33.91" text-anchor="middle"><text transform="translate(1228.4 1913.7) scale(0.923 1)">20</text><text transform="translate(1308.4 1913.7) scale(0.923 1)">30</text><text transform="translate(1388.4 1913.7) scale(0.923 1)">40</text><text transform="translate(1468.4 1913.7) scale(0.923 1)">50</text><text transform="translate(1548.4 1913.7) scale(0.923 1)">60</text><text transform="translate(1628.4 1913.7) scale(0.923 1)">70</text></g>
<path d="M1228.2 1755.1L1620.2 1606.3" stroke="#000" stroke-width="3.5" fill="none"/>
<g fill="#000"><circle cx="1236.2" cy="1761.9" r="6"/><circle cx="1244.2" cy="1737.5" r="6"/><circle cx="1252.2" cy="1825.9" r="6"/><circle cx="1260.2" cy="1716.7" r="6"/><circle cx="1260.2" cy="1721.5" r="6"/><circle cx="1260.2" cy="1725.9" r="6"/><circle cx="1268.2" cy="1709.9" r="6"/><circle cx="1268.2" cy="1777.5" r="6"/><circle cx="1276.2" cy="1709.9" r="6"/><circle cx="1276.2" cy="1718.3" r="6"/><circle cx="1276.2" cy="1745.9" r="6"/><circle cx="1284.2" cy="1693.5" r="6"/><circle cx="1292.2" cy="1649.9" r="6"/><circle cx="1292.2" cy="1665.9" r="6"/><circle cx="1292.2" cy="1821.9" r="6"/><circle cx="1300.2" cy="1697.5" r="6"/><circle cx="1300.2" cy="1702.3" r="6"/><circle cx="1300.2" cy="1721.5" r="6"/><circle cx="1308.2" cy="1665.9" r="6"/><circle cx="1308.2" cy="1749.9" r="6"/><circle cx="1316.2" cy="1669.9" r="6"/><circle cx="1316.2" cy="1681.9" r="6"/><circle cx="1316.2" cy="1761.9" r="6"/><circle cx="1324.2" cy="1701.9" r="6"/><circle cx="1324.2" cy="1785.5" r="6"/><circle cx="1332.2" cy="1673.9" r="6"/><circle cx="1332.2" cy="1749.9" r="6"/><circle cx="1348.2" cy="1633.9" r="6"/><circle cx="1348.2" cy="1717.9" r="6"/><circle cx="1348.2" cy="1769.5" r="6"/><circle cx="1348.2" cy="1781.9" r="6"/><circle cx="1356.2" cy="1729.9" r="6"/><circle cx="1364.2" cy="1705.9" r="6"/><circle cx="1364.2" cy="1729.9" r="6"/><circle cx="1372.2" cy="1733.9" r="6"/><circle cx="1372.2" cy="1741.9" r="6"/><circle cx="1372.2" cy="1761.9" r="6"/><circle cx="1380.2" cy="1613.9" r="6"/><circle cx="1380.2" cy="1681.9" r="6"/><circle cx="1380.2" cy="1693.5" r="6"/><circle cx="1388.2" cy="1701.9" r="6"/><circle cx="1388.2" cy="1729.9" r="6"/><circle cx="1396.2" cy="1721.9" r="6"/><circle cx="1404.2" cy="1673.9" r="6"/><circle cx="1404.2" cy="1713.9" r="6"/><circle cx="1412.2" cy="1606.3" r="6"/><circle cx="1412.2" cy="1625.9" r="6"/><circle cx="1412.2" cy="1725.9" r="6"/><circle cx="1420.2" cy="1717.5" r="6"/><circle cx="1420.2" cy="1745.9" r="6"/><circle cx="1428.2" cy="1721.9" r="6"/><circle cx="1428.2" cy="1741.9" r="6"/><circle cx="1436.2" cy="1641.9" r="6"/><circle cx="1436.2" cy="1689.9" r="6"/><circle cx="1436.2" cy="1709.9" r="6"/><circle cx="1444.2" cy="1589.9" r="6"/><circle cx="1444.2" cy="1625.9" r="6"/><circle cx="1444.2" cy="1653.9" r="6"/><circle cx="1444.2" cy="1741.9" r="6"/><circle cx="1452.2" cy="1753.9" r="6"/><circle cx="1460.2" cy="1557.9" r="6"/><circle cx="1460.2" cy="1617.9" r="6"/><circle cx="1460.2" cy="1661.9" r="6"/><circle cx="1460.2" cy="1737.5" r="6"/><circle cx="1468.2" cy="1573.9" r="6"/><circle cx="1468.2" cy="1637.9" r="6"/><circle cx="1468.2" cy="1657.9" r="6"/><circle cx="1468.2" cy="1669.9" r="6"/><circle cx="1468.2" cy="1721.9" r="6"/><circle cx="1476.2" cy="1697.9" r="6"/><circle cx="1476.2" cy="1737.5" r="6"/><circle cx="1484.2" cy="1653.9" r="6"/><circle cx="1484.2" cy="1702.3" r="6"/><circle cx="1484.2" cy="1741.9" r="6"/><circle cx="1492.2" cy="1597.9" r="6"/><circle cx="1500.2" cy="1593.9" r="6"/><circle cx="1508.2" cy="1625.9" r="6"/><circle cx="1508.2" cy="1681.9" r="6"/><circle cx="1508.2" cy="1689.9" r="6"/><circle cx="1508.2" cy="1709.9" r="6"/><circle cx="1524.2" cy="1549.9" r="6"/><circle cx="1524.2" cy="1593.9" r="6"/><circle cx="1524.2" cy="1657.9" r="6"/><circle cx="1524.2" cy="1669.9" r="6"/><circle cx="1524.2" cy="1693.9" r="6"/><circle cx="1532.2" cy="1557.9" r="6"/><circle cx="1532.2" cy="1721.5" r="6"/><circle cx="1556.2" cy="1557.9" r="6"/><circle cx="1564.2" cy="1625.9" r="6"/><circle cx="1564.2" cy="1645.9" r="6"/><circle cx="1564.2" cy="1685.9" r="6"/><circle cx="1580.2" cy="1529.9" r="6"/><circle cx="1580.2" cy="1617.5" r="6"/><circle cx="1596.2" cy="1645.9" r="6"/><circle cx="1612.2" cy="1573.9" r="6"/><circle cx="1620.2" cy="1517.9" r="6"/></g>
</g>
</svg>
</body>
</html>
